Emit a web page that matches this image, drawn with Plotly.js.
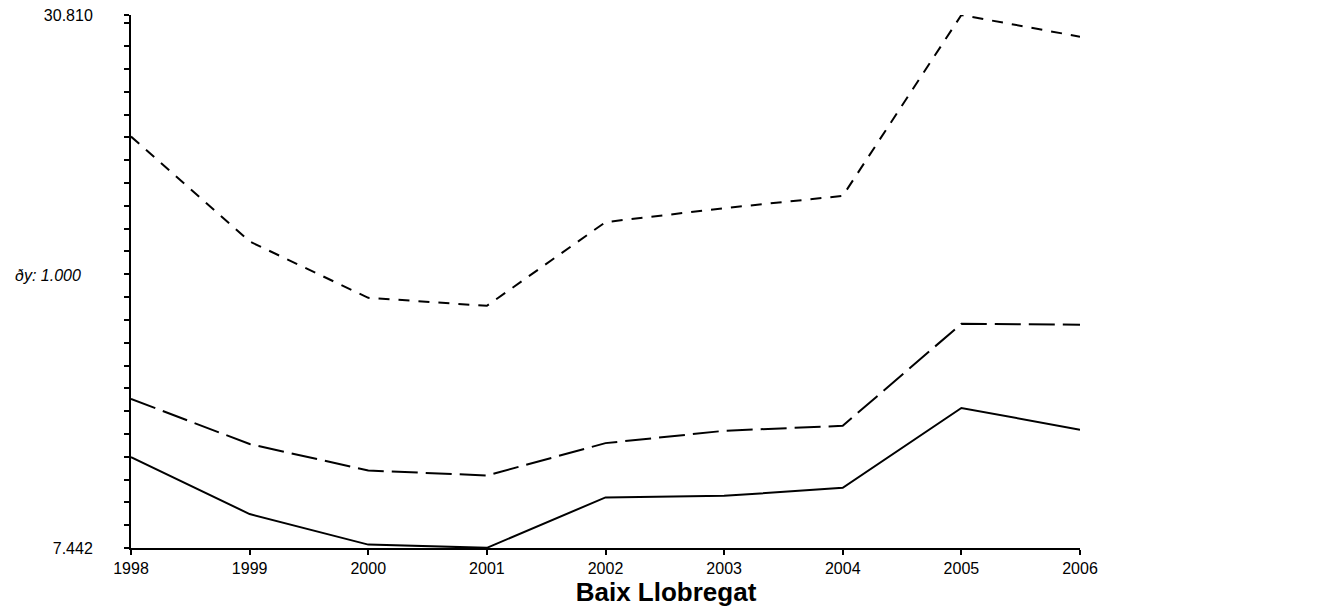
<!DOCTYPE html>
<html>
<head>
<meta charset="utf-8">
<script src="https://cdn.plot.ly/plotly-3.0.1.min.js"></script>
<style>html,body{margin:0;padding:0;background:#fff;}#chart{width:1343px;height:611px;}</style>
</head>
<body>
<div id="chart"></div>
<script>
const years = [1998, 1999, 2000, 2001, 2002, 2003, 2004, 2005, 2006];
const solidSeries = [11.43, 8.93, 7.59, 7.45, 9.66, 9.73, 10.08, 13.58, 12.63];
const longDashSeries = [13.98, 12.00, 10.84, 10.62, 12.04, 12.58, 12.80, 17.27, 17.23];
const shortDashSeries = [25.48, 20.88, 18.41, 18.06, 21.73, 22.34, 22.88, 30.81, 29.86];
const yMin = 7.442, yMax = 30.810, yStep = 1.0;
const yTickLabels = ['7.442', '30.810'];
const stepLabel = 'ðy: 1.000';
const chartTitle = 'Baix Llobregat';

const mk = (ys, dash) => ({
  x: years, y: ys, type: 'scatter', mode: 'lines', cliponaxis: false,
  line: {color: '#000', width: 2, dash: dash}, hoverinfo: 'skip'
});

const data = [
  mk(shortDashSeries, '11px,9px'),
  mk(longDashSeries, '26px,8px'),
  mk(solidSeries, 'solid')
];

const font = {family: '"Liberation Sans", Arial, sans-serif', color: '#000', size: 16};

const layout = {
  width: 1343, height: 611,
  margin: {l: 131, r: 263, t: 15, b: 63, pad: 0},
  paper_bgcolor: '#fff', plot_bgcolor: '#fff',
  showlegend: false,
  font: font,
  title: {
    text: '<b>' + chartTitle + '</b>',
    font: {family: font.family, size: 26, color: '#000'},
    xref: 'container', yref: 'container',
    x: 666 / 1343, xanchor: 'center',
    y: 1 - 592 / 611, yanchor: 'middle'
  },
  xaxis: {
    range: [years[0], years[years.length - 1]],
    tickvals: years, ticktext: years.map(String),
    showgrid: false, zeroline: false,
    showline: true, linecolor: '#000', linewidth: 2,
    ticks: 'outside', ticklen: 5, tickwidth: 2, tickcolor: '#000',
    tickfont: font,
    automargin: false
  },
  yaxis: {
    range: [yMin, yMax],
    tickvals: [yMin, yMax], ticktext: yTickLabels,
    showgrid: false, zeroline: false,
    showline: true, linecolor: '#000', linewidth: 2,
    ticks: 'outside', ticklen: 5, tickwidth: 2, tickcolor: '#000',
    ticklabelstandoff: 28,
    tickfont: font,
    automargin: false,
    minor: {tick0: yMin, dtick: yStep, ticks: 'outside', ticklen: 5, tickwidth: 2, tickcolor: '#000', showgrid: false}
  },
  annotations: [{
    text: '<i>' + stepLabel + '</i>', xref: 'paper', yref: 'paper',
    x: (13 - 131) / 949, y: (548 - 275) / 533, xanchor: 'left', yanchor: 'middle',
    showarrow: false, font: font
  }]
};

Plotly.newPlot('chart', data, layout, {staticPlot: true, displayModeBar: false});
</script>
</body>
</html>
